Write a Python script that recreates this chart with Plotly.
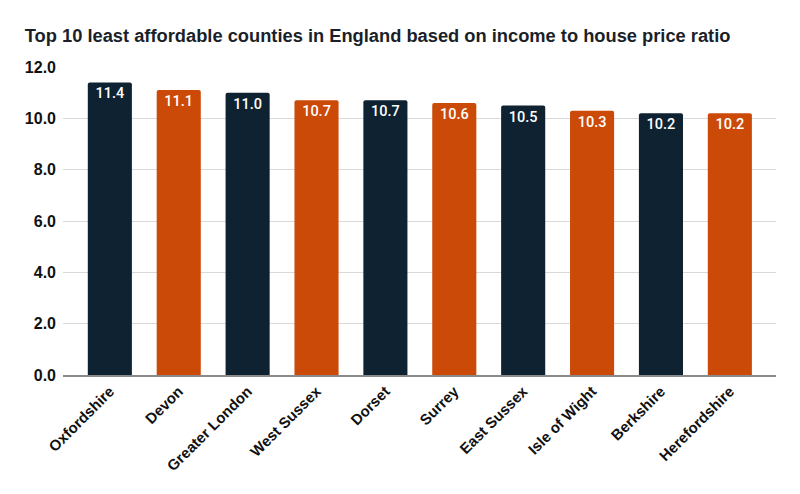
import plotly.graph_objects as go

counties = ["Oxfordshire", "Devon", "Greater London", "West Sussex", "Dorset",
            "Surrey", "East Sussex", "Isle of Wight", "Berkshire", "Herefordshire"]
ratio = [11.4, 11.1, 11.0, 10.7, 10.7, 10.6, 10.5, 10.3, 10.2, 10.2]
bar_colors = ["#0e2231", "#cc4a08"] * 5

y_ticks = [0, 2, 4, 6, 8, 10, 12]

fig = go.Figure(go.Bar(
    x=counties,
    y=ratio,
    marker=dict(color=bar_colors, line=dict(width=0), cornerradius=2),
    width=0.64,
    text=[f"{v:.1f}" for v in ratio],
    textposition="inside",
    insidetextanchor="end",
    textfont=dict(color="white", size=14.5, family="Roboto", weight=500),
    textangle=0,
))

# page body has an 8px margin, so margins are shifted to compensate
fig.update_layout(
    width=800, height=494,
    margin=dict(l=55, r=32, t=59, b=127),
    plot_bgcolor="white", paper_bgcolor="white",
    title=dict(text="<b>Top 10 least affordable counties in England based on income to house price ratio</b>",
               x=0.021, xanchor="left", y=0.945, yanchor="middle",
               font=dict(family="Liberation Sans", size=18.3, color="#1b1f2a")),
    showlegend=False,
)
fig.update_yaxes(range=[0, 12], tickvals=y_ticks, ticktext=[f"{t:.1f}" for t in y_ticks],
                 showgrid=True, gridcolor="#d9d9d9", gridwidth=1.2, zeroline=False,
                 tickfont=dict(family="Liberation Sans", size=16, color="#111111", weight="bold"),
                 ticks="", ticklabelstandoff=6, automargin=False)
fig.update_xaxes(range=[-0.68, 9.67], tickangle=-45, showline=True, linecolor="#8a8a8a", linewidth=1.5,
                 tickfont=dict(family="Liberation Sans", size=15, color="#111111", weight="bold"),
                 ticks="", automargin=False)

fig.write_html("out.html")
